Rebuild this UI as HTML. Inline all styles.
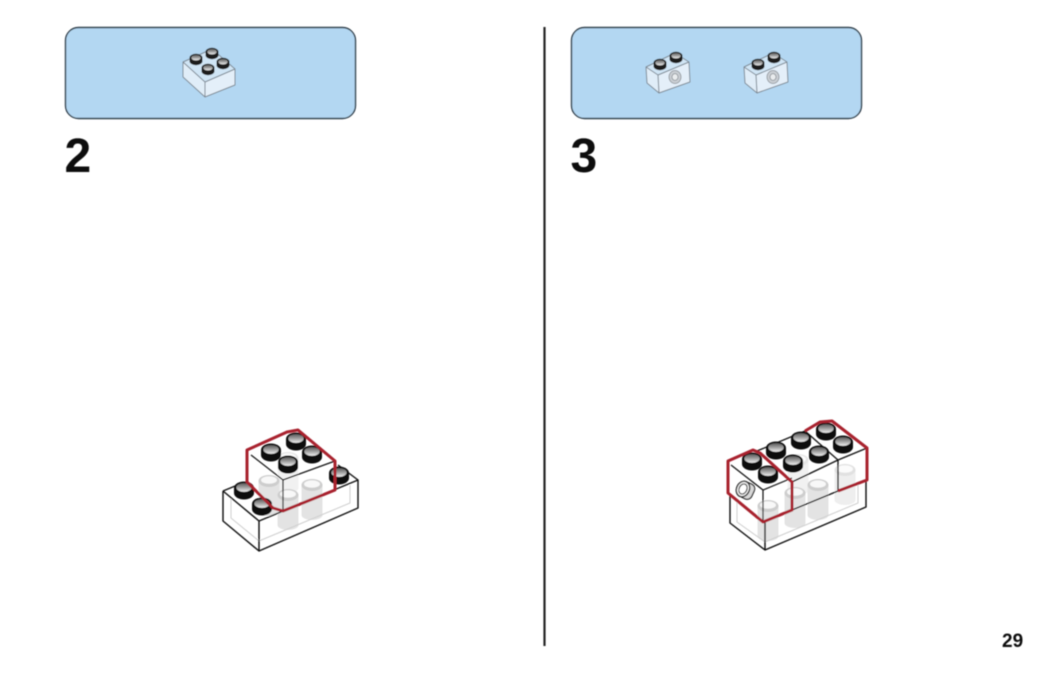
<!DOCTYPE html>
<html>
<head>
<meta charset="utf-8">
<style>
html,body{margin:0;padding:0;background:#fff;width:1050px;height:673px;overflow:hidden}
svg{display:block}
text{font-family:"Liberation Sans",sans-serif;font-weight:bold;fill:#111}
</style>
</head>
<body>
<svg width="1050" height="673" viewBox="0 0 1050 673" xmlns="http://www.w3.org/2000/svg">
<defs>
<filter id="b" x="-5%" y="-5%" width="110%" height="110%"><feGaussianBlur stdDeviation="0.5"/></filter>
<linearGradient id="sg" x1="0" y1="0" x2="0" y2="1"><stop offset="0" stop-color="#5a5a5a"/><stop offset="0.55" stop-color="#a8a8a8"/><stop offset="1" stop-color="#f4f4f4"/></linearGradient>
<g id="stud">
  <path d="M-10,0 V5 A10,6.5 0 0 0 10,5 V0 Z" fill="#0c0c0c"/>
  <ellipse cx="0" cy="0" rx="10" ry="6.5" fill="#0c0c0c"/>
  <ellipse cx="0" cy="-0.5" rx="7.6" ry="4.4" fill="url(#sg)"/>
</g>
<g id="ghost">
  <path d="M-10.5,0 V30 A10.5,5 0 0 0 10.5,30 V0 Z" fill="#e3e3e3"/>
  <ellipse cx="0" cy="0" rx="10.5" ry="6" fill="#cdcdcd"/>
  <ellipse cx="0" cy="-1" rx="8" ry="3.8" fill="#f8f8f8"/>
</g>
<g id="mini">
  <path d="M-6.5,0 V3 A6.5,4.2 0 0 0 6.5,3 V0 Z" fill="#1c1c1c"/>
  <ellipse rx="6.5" ry="4.2" fill="#1c1c1c"/>
  <ellipse cy="-0.3" rx="4.6" ry="2.7" fill="url(#sg)"/>
</g>
<g id="mini2">
  <path d="M646,67 L675,53 L689,62 L658,75 Z" fill="#d0e5f5"/>
  <path d="M646,67 L658,75 L659,93 L647,83 Z" fill="#e0edf8"/>
  <path d="M658,75 L689,62 L690,82 L659,93 Z" fill="#e4eff9"/>
  <path d="M646,67 L675,53 L689,62 L690,82 L659,93 L647,83 Z M646,67 L658,75 L689,62 M658,75 L659,93" fill="none" stroke="#7d8893" stroke-width="1" stroke-linejoin="round"/>
  <use href="#mini" x="660" y="63"/>
  <use href="#mini" x="676" y="56"/>
  <ellipse cx="675" cy="77" rx="6" ry="6.5" fill="#c9ced3" stroke="#8a9096" stroke-width="0.8"/>
  <ellipse cx="675" cy="77" rx="3" ry="3.4" fill="#e9ecee" stroke="#8a9096" stroke-width="0.8"/>
</g>
</defs>

<rect width="1050" height="673" fill="#fff"/>
<g filter="url(#b)">
<!-- panels -->
<rect x="65.5" y="27.5" width="290" height="91" rx="13" fill="#b3d7f2" stroke="#2f3d49" stroke-width="1.4"/>
<rect x="571.5" y="27.5" width="290" height="91" rx="13" fill="#b3d7f2" stroke="#2f3d49" stroke-width="1.4"/>
<line x1="544.5" y1="27" x2="544.5" y2="646" stroke="#222" stroke-width="2.2"/>

<!-- small 2x2 -->
<path d="M183,62 L212,49 L235,69 L205,82 Z" fill="#d0e5f5"/>
<path d="M183,62 L205,82 L205,97 L183,77 Z" fill="#e0edf8"/>
<path d="M205,82 L235,69 L235,85 L205,97 Z" fill="#e4eff9"/>
<path d="M183,62 L212,49 L235,69 L235,85 L205,97 L183,77 Z M183,62 L205,82 L235,69 M205,82 L205,97" fill="none" stroke="#7d8893" stroke-width="1" stroke-linejoin="round"/>
<use href="#mini" x="212" y="52"/>
<use href="#mini" x="223" y="62"/>
<use href="#mini" x="196" y="58"/>
<use href="#mini" x="208" y="68"/>

<!-- small 1x2 -->
<use href="#mini2"/>
<use href="#mini2" x="98"/>

<!-- left model -->
<g>
  <use href="#ghost" x="288" y="458" opacity="0.5"/>
  <use href="#ghost" x="269" y="481"/>
  <use href="#ghost" x="288" y="495"/>
  <use href="#ghost" x="312" y="485"/>
  <path d="M231,497 V518 L259,541 L350,503 V485" fill="none" stroke="#cfcfcf" stroke-width="1"/>
  <path d="M223,491 L240,484 M223,491 L259,521 L358,480 L338,465 M259,521 V551 M223,491 V521 L259,551 L358,508 V480" fill="none" stroke="#111" stroke-width="1.4" stroke-linejoin="round"/>
  <use href="#stud" x="244" y="488"/>
  <use href="#stud" x="262" y="504"/>
  <use href="#stud" x="339" y="473"/>
  <path d="M251,455 L283,480 L335,461 M283,480 V510" fill="none" stroke="#111" stroke-width="1.2"/>
  <use href="#stud" x="271" y="450"/>
  <use href="#stud" x="296" y="439"/>
  <use href="#stud" x="312" y="452"/>
  <use href="#stud" x="288" y="462"/>
  <path d="M247,450 L287,432 L298,430 L335,461 V490 L283,511 L273,508 L247,482 Z" fill="none" stroke="#a8232e" stroke-width="3" stroke-linejoin="round"/>
</g>

<!-- right model -->
<g>
  <use href="#ghost" x="798" y="460" opacity="0.5"/>
  <use href="#ghost" x="768" y="506"/>
  <use href="#ghost" x="795" y="493"/>
  <use href="#ghost" x="818" y="485"/>
  <use href="#ghost" x="845" y="470" opacity="0.6"/>
  <path d="M737,500 V522 L765,542 L858,503 V485" fill="none" stroke="#cfcfcf" stroke-width="1"/>
  <path d="M730,494 V523 L765,550 L866,507 V480 M765,522 V550" fill="none" stroke="#111" stroke-width="1.4" stroke-linejoin="round"/>
  <path d="M792,510 L838,491 M792,482 L838,460 M757,451 L805,431 M805,431 L838,460 V491 M838,460 L867,448" fill="none" stroke="#111" stroke-width="1.3"/>
  <path d="M731,465 L763,490 L792,478 M763,490 V522" fill="none" stroke="#111" stroke-width="1.2"/>
  <use href="#stud" x="752" y="459"/>
  <use href="#stud" x="768" y="472"/>
  <use href="#stud" x="776" y="448"/>
  <use href="#stud" x="793" y="461"/>
  <use href="#stud" x="801" y="438"/>
  <use href="#stud" x="819" y="452"/>
  <use href="#stud" x="826" y="429"/>
  <use href="#stud" x="843" y="442"/>
  <g transform="rotate(25 743 489)">
    <rect x="741" y="481" width="13" height="16" rx="5" fill="#d8d8d8" stroke="#222" stroke-width="1.2"/>
    <ellipse cx="743" cy="489" rx="6.4" ry="8" fill="#eee" stroke="#222" stroke-width="1.3"/>
    <ellipse cx="743" cy="489" rx="3.8" ry="5.2" fill="#fff" stroke="#333" stroke-width="1.1"/>
  </g>
  <path d="M728,461 L753,450 L760,453 L792,482 V510 L763,522 L728,493 Z" fill="none" stroke="#a8232e" stroke-width="3" stroke-linejoin="round"/>
  <path d="M805,431 L820,422 L832,421 L867,448 V480 L838,491" fill="none" stroke="#a8232e" stroke-width="3" stroke-linejoin="round"/>
</g>

<text x="64.5" y="172" font-size="48">2</text>
<text x="570.5" y="172" font-size="48">3</text>
<text x="1002" y="647" font-size="19">29</text>
</g>
</svg>
</body>
</html>
